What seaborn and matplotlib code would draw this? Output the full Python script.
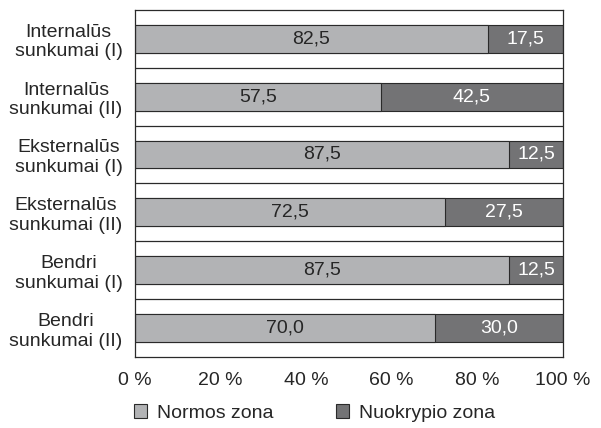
import pandas as pd
import matplotlib.pyplot as plt
import seaborn as sns
from matplotlib.patches import Patch

# data
categories = ["Internalūs\nsunkumai (I)", "Internalūs\nsunkumai (II)",
              "Eksternalūs\nsunkumai (I)", "Eksternalūs\nsunkumai (II)",
              "Bendri\nsunkumai (I)", "Bendri\nsunkumai (II)"]
normos = [82.5, 57.5, 87.5, 72.5, 87.5, 70.0]
nuokrypio = [17.5, 42.5, 12.5, 27.5, 12.5, 30.0]
series_names = ["Normos zona", "Nuokrypio zona"]

df = pd.DataFrame({"cat": categories, "normos": normos, "nuokrypio": nuokrypio})
df["total"] = df["normos"] + df["nuokrypio"]

sns.set_style("white")
plt.rcParams["font.family"] = ["Liberation Sans", "DejaVu Sans"]
plt.rcParams["font.size"] = 14
plt.rcParams["text.color"] = "#262626"
plt.rcParams["xtick.color"] = "#262626"
plt.rcParams["ytick.color"] = "#262626"

light = "#b2b3b5"
dark = "#737375"
ink = "#2a2a2a"

fig = plt.figure(figsize=(6.01, 4.28), dpi=100)
ax = fig.add_axes([0.2246, 0.166, 0.712, 0.811])

sns.barplot(data=df, y="cat", x="total", color=dark, width=0.48,
            edgecolor=ink, linewidth=0.8, saturation=1, ax=ax)
sns.barplot(data=df, y="cat", x="normos", color=light, width=0.48,
            edgecolor=ink, linewidth=0.8, saturation=1, ax=ax)

for i, (a, b) in enumerate(zip(normos, nuokrypio)):
    ax.text(a / 2, i, f"{a:.1f}".replace(".", ","), ha="center", va="center",
            fontsize=14, color="#262626")
    ax.text(a + b / 2, i, f"{b:.1f}".replace(".", ","), ha="center", va="center",
            fontsize=14, color="white")

ax.set_xlim(0, 100)
ax.set_ylim(len(categories) - 0.5, -0.5)
ax.set_xticks(range(0, 101, 20))
ax.set_xticklabels([f"{v} %" for v in range(0, 101, 20)])
ax.set_xticks(range(0, 101, 10), minor=True)
ax.set_xlabel("")
ax.set_ylabel("")

# separators between categories
ax.set_yticks([i - 0.5 for i in range(len(categories) + 1)], minor=True)
for i in range(1, len(categories)):
    ax.axhline(i - 0.5, color=ink, linewidth=0.9, zorder=0)
ax.tick_params(axis="y", which="major", length=0, labelsize=14, pad=9)
ax.tick_params(axis="y", which="minor", length=4, width=0.9, color=ink)
ax.tick_params(axis="x", which="both", length=3, width=0.9, color=ink,
               labelsize=14, pad=7.5)
for lab in ax.get_yticklabels():
    lab.set_multialignment("center")

for s in ax.spines.values():
    s.set_color(ink)
    s.set_linewidth(0.9)

handles = [Patch(facecolor=light, edgecolor=ink, linewidth=0.8),
           Patch(facecolor=dark, edgecolor=ink, linewidth=0.8)]
fig.legend(handles, series_names, loc="center", bbox_to_anchor=(0.523, 0.035),
           ncol=2, frameon=False, fontsize=14, handlelength=0.7,
           handleheight=0.7, handletextpad=0.5, columnspacing=3.2)

fig.savefig("out.png", dpi=100)
